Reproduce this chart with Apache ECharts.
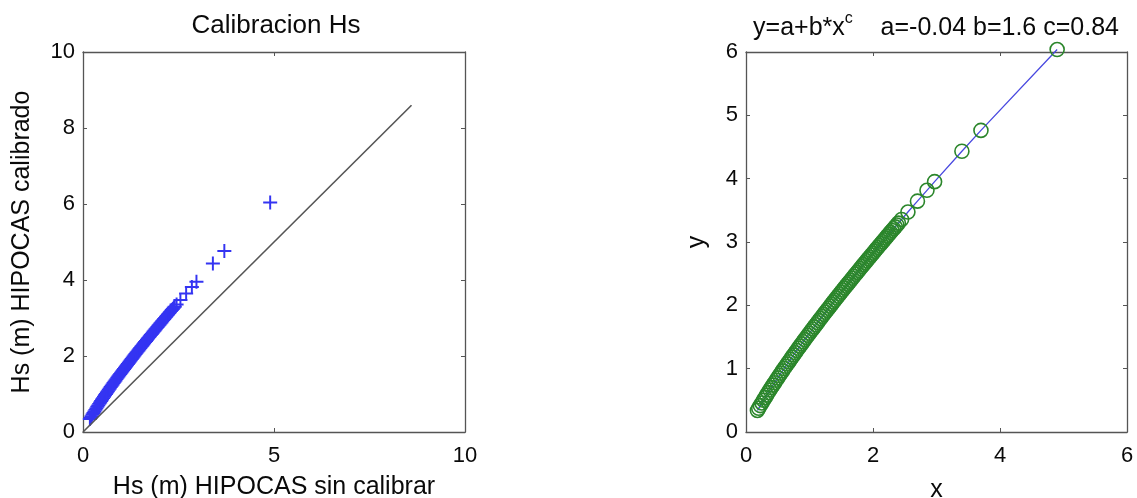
<!DOCTYPE html>
<html>
<head>
<meta charset="utf-8">
<script src="https://cdn.jsdelivr.net/npm/echarts@6/dist/echarts.min.js"></script>
<style>
  html, body { margin: 0; padding: 0; background: #ffffff; }
  #chart { width: 1137px; height: 498px; }
</style>
</head>
<body>
<div id="chart"></div>
<script>
// Uncalibrated HIPOCAS significant wave height (m)
const rawHs = [0.18, 0.2, 0.225, 0.25, 0.275, 0.3, 0.325, 0.35, 0.375, 0.4, 0.425, 0.45,
  0.475, 0.5, 0.525, 0.55, 0.575, 0.6, 0.625, 0.65, 0.675, 0.7, 0.725, 0.75, 0.775, 0.8,
  0.825, 0.85, 0.875, 0.9, 0.925, 0.95, 0.975, 1.0, 1.025, 1.05, 1.075, 1.1, 1.125, 1.15,
  1.175, 1.2, 1.225, 1.25, 1.275, 1.3, 1.325, 1.35, 1.375, 1.4, 1.425, 1.45, 1.475, 1.5,
  1.525, 1.55, 1.575, 1.6, 1.625, 1.65, 1.675, 1.7, 1.725, 1.75, 1.775, 1.8, 1.825, 1.85,
  1.875, 1.9, 1.925, 1.95, 1.975, 2.0, 2.025, 2.05, 2.075, 2.1, 2.125, 2.15, 2.175, 2.2,
  2.225, 2.25, 2.275, 2.3, 2.325, 2.35, 2.375, 2.4, 2.45, 2.55, 2.7, 2.85, 2.97, 3.4, 3.7, 4.9];
// Calibrated HIPOCAS significant wave height (m)
const calHs = [0.34, 0.374, 0.417, 0.459, 0.501, 0.542, 0.582, 0.622, 0.662, 0.701, 0.74, 0.778,
  0.816, 0.854, 0.891, 0.928, 0.965, 1.002, 1.038, 1.074, 1.11, 1.146, 1.182, 1.217, 1.252, 1.287,
  1.322, 1.356, 1.391, 1.425, 1.459, 1.493, 1.527, 1.56, 1.594, 1.627, 1.66, 1.693, 1.726, 1.759,
  1.792, 1.825, 1.858, 1.89, 1.922, 1.954, 1.987, 2.019, 2.051, 2.083, 2.115, 2.146, 2.178, 2.209,
  2.241, 2.272, 2.304, 2.335, 2.366, 2.397, 2.428, 2.459, 2.49, 2.52, 2.551, 2.581, 2.612, 2.643,
  2.673, 2.703, 2.734, 2.764, 2.794, 2.824, 2.854, 2.884, 2.914, 2.944, 2.974, 3.003, 3.033, 3.063,
  3.093, 3.122, 3.152, 3.181, 3.21, 3.239, 3.269, 3.298, 3.356, 3.473, 3.645, 3.816, 3.953, 4.433,
  4.762, 6.039];
// 1:1 reference line
const diagX = [0, 8.6];
const diagY = [0, 8.6];

const leftXTicks = [0, 5, 10];
const leftYTicks = [0, 2, 4, 6, 8, 10];
const rightXTicks = [0, 2, 4, 6];
const rightYTicks = [0, 1, 2, 3, 4, 5, 6];

const titleLeft = 'Calibracion Hs';
const titleRight = ['y=a+b*x', 'c', '    a=-0.04 b=1.6 c=0.84'];
const nameLeftX = 'Hs (m) HIPOCAS sin calibrar';
const nameLeftY = 'Hs (m) HIPOCAS calibrado';
const nameRightX = 'x';
const nameRightY = 'y';

const points = rawHs.map((x, i) => [x, calHs[i]]);
const diag = diagX.map((x, i) => [x, diagY[i]]);

const FONT = 'Liberation Sans, Arial, Helvetica, sans-serif';
const AXIS_COLOR = '#555';
const TEXT_COLOR = '#0a0a0a';

function makeAxis(gridIndex, ticks, position, labelled, name, nameGap) {
  const step = ticks[1] - ticks[0];
  return {
    type: 'value',
    gridIndex: gridIndex,
    position: position,
    min: ticks[0],
    max: ticks[ticks.length - 1],
    interval: step,
    name: labelled ? name : '',
    nameLocation: 'middle',
    nameGap: nameGap,
    nameTextStyle: { fontFamily: FONT, fontSize: 25, color: TEXT_COLOR },
    axisLine: { show: true, onZero: false, lineStyle: { color: AXIS_COLOR, width: 1.3 } },
    axisTick: { show: true, inside: true, length: 4, lineStyle: { color: AXIS_COLOR } },
    axisLabel: {
      show: labelled, fontFamily: FONT, fontSize: 22, color: TEXT_COLOR,
      margin: (position === 'bottom') ? 13 : 8,
      showMinLabel: true, showMaxLabel: true
    },
    splitLine: { show: false }
  };
}

const chart = echarts.init(document.getElementById('chart'), null, { renderer: 'canvas' });

chart.setOption({
  backgroundColor: '#ffffff',
  animation: false,
  grid: [
    { left: 83, top: 52, width: 382, height: 380, containLabel: false, outerBoundsMode: 'none' },
    { left: 746, top: 52, width: 381, height: 380, containLabel: false, outerBoundsMode: 'none' }
  ],
  xAxis: [
    makeAxis(0, leftXTicks, 'bottom', true, nameLeftX, 43),
    makeAxis(0, leftXTicks, 'top', false, '', 0),
    makeAxis(1, rightXTicks, 'bottom', true, nameRightX, 46),
    makeAxis(1, rightXTicks, 'top', false, '', 0)
  ],
  yAxis: [
    makeAxis(0, leftYTicks, 'left', true, nameLeftY, 48),
    makeAxis(0, leftYTicks, 'right', false, '', 0),
    makeAxis(1, rightYTicks, 'left', true, nameRightY, 36),
    makeAxis(1, rightYTicks, 'right', false, '', 0)
  ],
  graphic: [
    {
      type: 'text', x: 276, y: 26,
      style: { text: titleLeft, font: '26px ' + FONT, fill: TEXT_COLOR, align: 'center', verticalAlign: 'middle' }
    },
    {
      type: 'text', x: 936, y: 26,
      style: {
        text: '{n|' + titleRight[0] + '}{s|' + titleRight[1] + '}{n|' + titleRight[2] + '}',
        align: 'center', verticalAlign: 'middle',
        rich: {
          n: { fontFamily: FONT, fontSize: 25, fill: TEXT_COLOR, lineHeight: 30, verticalAlign: 'bottom' },
          s: { fontFamily: FONT, fontSize: 16, fill: TEXT_COLOR, lineHeight: 30, verticalAlign: 'top' }
        }
      }
    }
  ],
  series: [
    {
      type: 'line', xAxisIndex: 0, yAxisIndex: 0, data: diag,
      symbol: 'none', lineStyle: { color: '#555', width: 1.6 }, silent: true
    },
    {
      type: 'scatter', xAxisIndex: 0, yAxisIndex: 0, data: points,
      symbol: 'path://M4.3,0H5.7V4.3H10V5.7H5.7V10H4.3V5.7H0V4.3H4.3Z',
      symbolSize: 14,
      itemStyle: { color: '#3434f2', opacity: 1 }
    },
    {
      type: 'line', xAxisIndex: 2, yAxisIndex: 2, data: points, clip: false,
      symbol: 'none', lineStyle: { color: '#4848e0', width: 1.3 }, z: 1
    },
    {
      type: 'scatter', xAxisIndex: 2, yAxisIndex: 2, data: points, clip: false,
      symbol: 'circle', symbolSize: 14, z: 2,
      itemStyle: { color: 'rgba(0,0,0,0)', borderColor: '#2b862b', borderWidth: 1.6, opacity: 1 }
    }
  ]
});
</script>
</body>
</html>
